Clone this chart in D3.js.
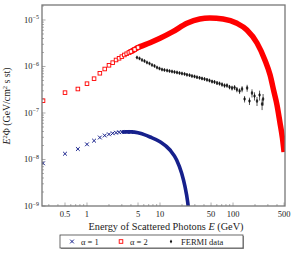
<!DOCTYPE html>
<html>
<head>
<meta charset="utf-8">
<script src="https://cdn.jsdelivr.net/npm/d3@7"></script>
<style>
  body { margin: 0; background: #fff; }
  text { font-family: "Liberation Serif", "DejaVu Serif", serif; fill: #222; }
</style>
</head>
<body>
<div id="chart"></div>
<script>
// alpha = 1 (blue crosses)
var alpha1E = [0.25, 0.5, 0.75, 1, 1.25, 1.5, 1.75, 2, 2.25, 2.5, 2.75, 3, 3.5, 4, 5, 5.32, 7.3, 10, 13.7, 16.9, 19.8, 22, 23.9, 24.5];
var alpha1F = [8.28e-9, 1.33e-8, 1.68e-8, 2.12e-8, 2.54e-8, 2.97e-8, 3.28e-8, 3.48e-8, 3.66e-8, 3.77e-8, 3.85e-8, 3.9e-8, 3.93e-8, 3.92e-8, 3.75e-8, 3.66e-8, 3.05e-8, 2.42e-8, 1.6e-8, 9.75e-9, 5.05e-9, 2.6e-9, 1.24e-9, 9e-10];

// alpha = 2 (red squares)
var alpha2E = [0.25, 0.5, 0.75, 1, 1.25, 1.5, 1.75, 2, 2.25, 2.5, 2.75, 3, 3.25, 3.5, 3.75, 4, 4.5, 5, 5.32, 7.3, 10, 15, 23.4, 35, 48, 73, 113, 155, 213, 273, 322, 364, 400, 438, 475, 500];
var alpha2F = [1.84e-7, 2.74e-7, 3.28e-7, 4.27e-7, 5.47e-7, 7.15e-7, 8.83e-7, 1.06e-6, 1.21e-6, 1.38e-6, 1.5e-6, 1.63e-6, 1.77e-6, 1.88e-6, 2.0e-6, 2.1e-6, 2.32e-6, 2.56e-6, 2.67e-6, 3.25e-6, 4.04e-6, 5.6e-6, 8.5e-6, 1.05e-5, 1.1e-5, 1.05e-5, 8.5e-6, 6.1e-6, 3.2e-6, 1.38e-6, 6.56e-7, 2.83e-7, 1.49e-7, 6.4e-8, 2.9e-8, 1.45e-8];

// FERMI data with relative error
var fermiE = [4.84, 5.24, 5.67, 6.13, 6.63, 7.18, 7.77, 8.41, 9.1, 9.84, 10.65, 11.5, 12.5, 13.5, 14.6, 15.8, 17.1, 18.5, 20.0, 21.7, 23.4, 25.4, 27.4, 29.7, 32.1, 34.8, 37.6, 40.7, 44.0, 47.6, 51.6, 55.8, 60.4, 65.3, 70.7, 76.5, 82.7, 89.5, 96.9, 105, 113, 123, 133, 144, 156, 168, 182, 197, 213, 231, 250, 258];
var fermiF = [1.56e-6, 1.49e-6, 1.38e-6, 1.31e-6, 1.22e-6, 1.16e-6, 1.08e-6, 1.03e-6, 9.5e-7, 9.05e-7, 8.6e-7, 8.4e-7, 8.2e-7, 8.0e-7, 7.8e-7, 7.62e-7, 7.43e-7, 7.24e-7, 7.06e-7, 6.9e-7, 6.64e-7, 6.5e-7, 6.25e-7, 6.1e-7, 5.89e-7, 5.71e-7, 5.52e-7, 5.38e-7, 5.18e-7, 5.0e-7, 4.75e-7, 4.65e-7, 4.42e-7, 4.3e-7, 4.1e-7, 3.9e-7, 3.9e-7, 3.62e-7, 3.45e-7, 3.53e-7, 3.2e-7, 2.97e-7, 3.28e-7, 2.0e-7, 3.45e-7, 1.81e-7, 2.69e-7, 2.32e-7, 1.81e-7, 2.44e-7, 1.56e-7, 2.0e-7];
var fermiErr = [0.03, 0.03, 0.03, 0.03, 0.03, 0.03, 0.03, 0.03, 0.03, 0.04, 0.04, 0.04, 0.04, 0.04, 0.04, 0.04, 0.05, 0.05, 0.05, 0.05, 0.05, 0.05, 0.06, 0.06, 0.06, 0.06, 0.07, 0.07, 0.07, 0.08, 0.08, 0.08, 0.09, 0.09, 0.1, 0.1, 0.1, 0.11, 0.12, 0.12, 0.13, 0.14, 0.15, 0.16, 0.17, 0.18, 0.2, 0.2, 0.22, 0.24, 0.26, 0.28];

var xTicks = [0.5, 1, 5, 10, 50, 100, 500];
var yTicks = [-9, -8, -7, -6, -5];

var W = 295, H = 255;
var pL = 42, pR = 285, pT = 5, pB = 206;

var x = d3.scaleLog().domain([0.242, 515]).range([pL, pR]);
var y = d3.scaleLog().domain([1e-9, 2.1e-5]).range([pB, pT]);

var svg = d3.select("#chart").append("svg")
    .attr("width", W).attr("height", H);

svg.append("defs").append("clipPath").attr("id", "clip")
    .append("rect").attr("x", pL).attr("y", pT)
    .attr("width", pR - pL).attr("height", pB - pT);

var plot = svg.append("g").attr("clip-path", "url(#clip)");

var blue = "#16208c", red = "#ff0000";
var line = d3.line().x(d => x(d.e)).y(d => y(d.f)).curve(d3.curveMonotoneX);

// alpha=1
var a1 = alpha1E.map((e, i) => ({e: e, f: alpha1F[i]}));
plot.append("path").datum(a1.filter(d => d.e >= 3))
    .attr("d", line).attr("fill", "none")
    .attr("stroke", blue).attr("stroke-width", 3.6);
plot.selectAll(".cross").data(a1.filter(d => d.e <= 4)).enter()
    .append("path").attr("class", "cross")
    .attr("d", d3.symbol(d3.symbolX, 11))
    .attr("transform", d => "translate(" + x(d.e) + "," + y(d.f) + ")")
    .attr("stroke", blue).attr("stroke-width", 1).attr("fill", "none");

// alpha=2
var a2 = alpha2E.map((e, i) => ({e: e, f: alpha2F[i]}));
plot.append("path").datum(a2.filter(d => d.e >= 3.75))
    .attr("d", line).attr("fill", "none")
    .attr("stroke", red).attr("stroke-width", 5.5);
plot.selectAll(".sq").data(a2.filter(d => d.e <= 5)).enter()
    .append("rect").attr("class", "sq")
    .attr("x", d => x(d.e) - 1.8).attr("y", d => y(d.f) - 1.8)
    .attr("width", 3.6).attr("height", 3.6)
    .attr("fill", "#fff").attr("stroke", red).attr("stroke-width", 0.9);

// FERMI
var fd = fermiE.map((e, i) => ({e: e, f: fermiF[i], r: fermiErr[i]}));
plot.selectAll(".err").data(fd).enter()
    .append("line").attr("class", "err")
    .attr("x1", d => x(d.e)).attr("x2", d => x(d.e))
    .attr("y1", d => y(d.f * (1 - d.r))).attr("y2", d => y(d.f * (1 + d.r)))
    .attr("stroke", "#111").attr("stroke-width", 0.7);
plot.selectAll(".dia").data(fd).enter()
    .append("path").attr("class", "dia")
    .attr("d", d3.symbol(d3.symbolDiamond, 3.5))
    .attr("transform", d => "translate(" + x(d.e) + "," + y(d.f) + ")")
    .attr("fill", "#111").attr("stroke", "#111").attr("stroke-width", 0.5);

// frame
svg.append("rect").attr("x", pL).attr("y", pT)
    .attr("width", pR - pL).attr("height", pB - pT)
    .attr("fill", "none").attr("stroke", "#777").attr("stroke-width", 1.3);

// x ticks
var xMinor = [];
[0.1, 1, 10, 100].forEach(function (dec) {
    for (var k = 1; k <= 9; k++) {
        var v = dec * k;
        if (v > 0.242 && v < 515) xMinor.push(v);
    }
});
svg.selectAll(".xm").data(xMinor).enter().append("line")
    .attr("x1", d => x(d)).attr("x2", d => x(d))
    .attr("y1", pB).attr("y2", d => pB - (xTicks.indexOf(d) >= 0 ? 3.5 : 2))
    .attr("stroke", "#777").attr("stroke-width", 0.6);
svg.selectAll(".xl").data(xTicks).enter().append("text")
    .attr("x", d => x(d)).attr("y", pB + 10.5)
    .attr("text-anchor", "middle").attr("font-size", 8.5)
    .text(d => d);

// y ticks
var yMinor = [];
yTicks.forEach(function (p) {
    for (var k = 1; k <= 9; k++) {
        var v = k * Math.pow(10, p);
        if (v <= 2.1e-5) yMinor.push({v: v, major: k === 1});
    }
});
svg.selectAll(".ym").data(yMinor).enter().append("line")
    .attr("x1", pL).attr("x2", d => pL + (d.major ? 3.5 : 2))
    .attr("y1", d => y(d.v)).attr("y2", d => y(d.v))
    .attr("stroke", "#777").attr("stroke-width", 0.6);
var yl = svg.selectAll(".yl").data(yTicks).enter().append("text")
    .attr("x", pL - 3).attr("y", d => y(Math.pow(10, d)) + 3)
    .attr("text-anchor", "end").attr("font-size", 8.5);
yl.append("tspan").text("10");
yl.append("tspan").attr("dy", -3.5).attr("font-size", 6).text(d => "\u2212" + (-d));

// axis titles
svg.append("text")
    .attr("x", 166).attr("y", 230)
    .attr("text-anchor", "middle").attr("font-size", 10.3)
    .html("Energy of Scattered Photons <tspan font-style='italic'>E</tspan> (GeV)");

var yt = svg.append("text")
    .attr("transform", "translate(10,106) rotate(-90)")
    .attr("text-anchor", "middle").attr("font-size", 9.8);
yt.append("tspan").attr("font-style", "italic").text("E");
yt.append("tspan").attr("dy", -3.5).attr("font-size", 6.5).text("2");
yt.append("tspan").attr("dy", 3.5).text("\u03A6 (GeV/cm");
yt.append("tspan").attr("dy", -3.5).attr("font-size", 6.5).text("2");
yt.append("tspan").attr("dy", 3.5).text(" s st)");

// legend
var lg = svg.append("g");
lg.append("rect").attr("x", 61).attr("y", 236).attr("width", 183).attr("height", 13)
    .attr("fill", "#999");
lg.append("rect").attr("x", 60).attr("y", 235).attr("width", 183).attr("height", 13)
    .attr("fill", "#fff").attr("stroke", "#444").attr("stroke-width", 0.8);
lg.append("path").attr("d", d3.symbol(d3.symbolX, 11))
    .attr("transform", "translate(72,241.5)")
    .attr("stroke", blue).attr("stroke-width", 1).attr("fill", "none");
lg.append("rect").attr("x", 119.2).attr("y", 239.7).attr("width", 3.6).attr("height", 3.6)
    .attr("fill", "#fff").attr("stroke", red).attr("stroke-width", 0.9);
lg.append("path").attr("d", d3.symbol(d3.symbolDiamond, 5))
    .attr("transform", "translate(171,241.5)").attr("fill", "#111");
var legLabels = [{x: 81, t: "\u03B1 = 1"}, {x: 130, t: "\u03B1 = 2"}, {x: 181, t: "FERMI data"}];
lg.selectAll(".lt").data(legLabels).enter().append("text")
    .attr("x", d => d.x).attr("y", 244.5).attr("font-size", 8.5)
    .text(d => d.t);
</script>
</body>
</html>
